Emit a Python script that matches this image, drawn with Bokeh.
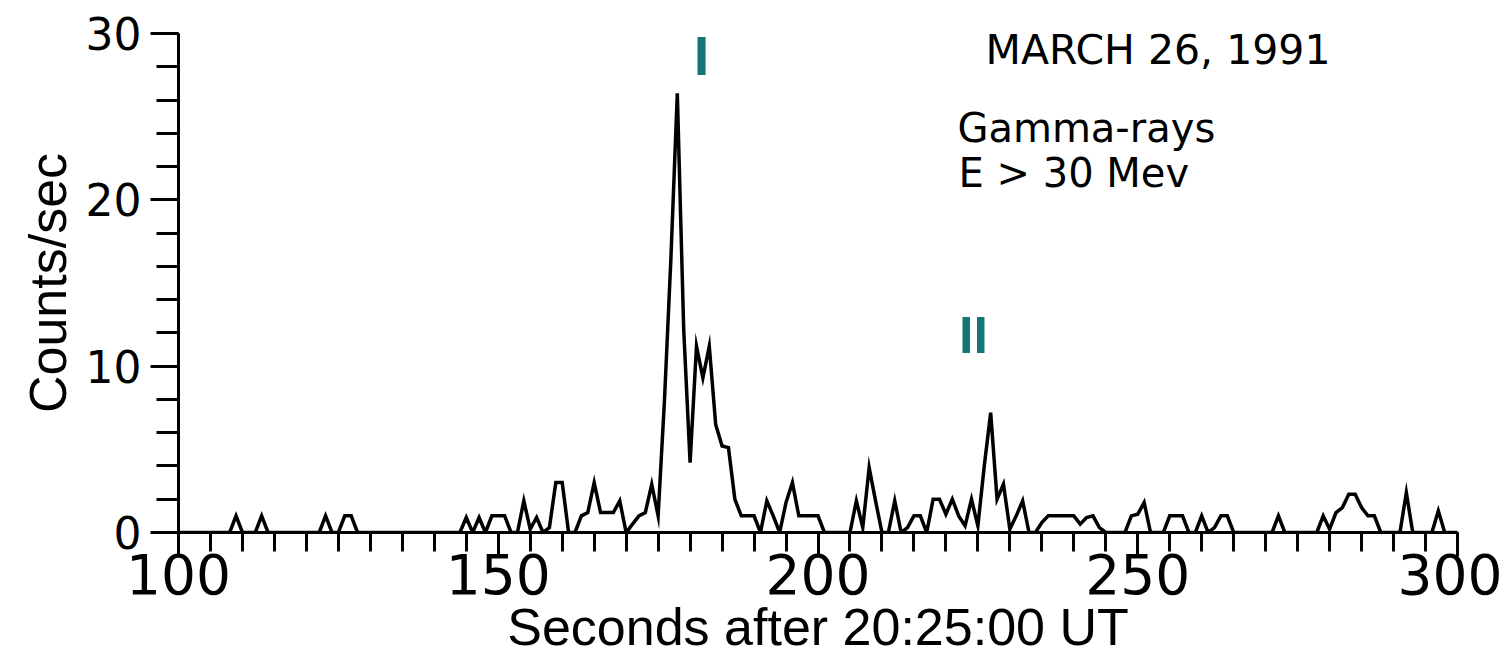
from bokeh.plotting import figure
from bokeh.models import Range1d, SingleIntervalTicker, Label
from bokeh.embed import file_html
from bokeh.resources import INLINE

# Time bins (seconds after 20:25:00 UT), 1 s resolution
seconds = list(range(100, 301))

# Count rate (counts/sec) for gamma-rays E > 30 MeV
counts = [
    # 100-109
    0, 0, 0, 0, 0, 0, 0, 0, 0, 1.0,
    # 110-119
    0, 0, 0, 1.0, 0, 0, 0, 0, 0, 0,
    # 120-129
    0, 0, 0, 1.0, 0, 0, 1.0, 1.0, 0, 0,
    # 130-139
    0, 0, 0, 0, 0, 0, 0, 0, 0, 0,
    # 140-149
    0, 0, 0, 0, 0, 0.9, 0, 0.9, 0, 1.0,
    # 150-159
    1.0, 1.0, 0, 0, 1.9, 0.2, 0.9, 0, 0.3, 3.0,
    # 160-169
    3.0, 0, 0, 1.0, 1.2, 3.0, 1.2, 1.2, 1.2, 1.9,
    # 170-179
    0, 0.5, 1.0, 1.2, 2.9, 1.0, 8.0, 16.5, 26.4, 12.2,
    # 180-189
    4.2, 11.2, 9.3, 11.2, 6.5, 5.2, 5.1, 2.0, 1.0, 1.0,
    # 190-199
    1.0, 0, 1.9, 1.0, 0, 1.8, 3.0, 1.0, 1.0, 1.0,
    # 200-209
    1.0, 0, 0, 0, 0, 0, 1.9, 0.3, 3.9, 1.9,
    # 210-219
    0, 0, 1.9, 0, 0.3, 1.0, 1.0, 0, 2.0, 2.0,
    # 220-229
    1.1, 2.0, 1.0, 0.4, 2.0, 0.4, 4.0, 7.2, 2.0, 2.9,
    # 230-239
    0.2, 1.0, 1.9, 0, 0, 0.6, 1.0, 1.0, 1.0, 1.0,
    # 240-249
    1.0, 0.5, 0.9, 1.0, 0.3, 0, 0, 0, 0, 1.0,
    # 250-259
    1.1, 1.8, 0, 0, 0, 1.0, 1.0, 1.0, 0, 0,
    # 260-269
    1.0, 0, 0.3, 1.0, 1.0, 0, 0, 0, 0, 0,
    # 270-279
    0, 0, 1.0, 0, 0, 0, 0, 0, 0, 1.0,
    # 280-289
    0.2, 1.2, 1.5, 2.3, 2.3, 1.5, 1.0, 1.0, 0, 0,
    # 290-299
    0, 0, 2.4, 0, 0, 0, 0, 1.3, 0, 0,
    # 300
    0,
]

title_text = "MARCH 26, 1991"
species_text = "Gamma-rays"
energy_text = "E > 30 Mev"
peak_labels = ["I", "II"]

FONT = "DejaVu Sans"
LABEL_FONT = "Liberation Sans"
TEAL = "#147676"

p = figure(
    width=1502, height=658,
    output_backend="svg", toolbar_location=None,
    x_range=Range1d(100, 300), y_range=Range1d(0, 30),
    min_border_left=178, min_border_right=45,
    min_border_top=33, min_border_bottom=125,
)
p.outline_line_color = None
p.grid.visible = False
p.background_fill_color = "white"
p.border_fill_color = "white"

p.line(seconds, counts, line_color="black", line_width=3.5, line_join="miter")

# X axis
xa = p.xaxis[0]
xa.ticker = SingleIntervalTicker(interval=50, num_minor_ticks=10)
xa.axis_label = "Seconds after 20:25:00 UT"
xa.axis_line_width = 3
xa.major_tick_line_width = 3
xa.minor_tick_line_width = 3
xa.major_tick_out = 24
xa.major_tick_in = 0
xa.minor_tick_out = 19
xa.minor_tick_in = 0
xa.major_label_standoff = -3
xa.axis_label_standoff = 1
xa.major_label_text_font = FONT
xa.major_label_text_font_size = "55px"
xa.major_label_text_color = "black"
xa.axis_label_text_font = LABEL_FONT
xa.axis_label_text_font_size = "52px"
xa.axis_label_text_font_style = "normal"
xa.axis_label_text_color = "black"

# Y axis
ya = p.yaxis[0]
ya.ticker = SingleIntervalTicker(interval=10, num_minor_ticks=5)
ya.axis_label = "Counts/sec"
ya.axis_line_width = 3
ya.major_tick_line_width = 3
ya.minor_tick_line_width = 3
ya.major_tick_out = 28
ya.major_tick_in = 0
ya.minor_tick_out = 22
ya.minor_tick_in = 0
ya.major_label_standoff = 9
ya.axis_label_standoff = 6
ya.major_label_text_font = FONT
ya.major_label_text_font_size = "44px"
ya.major_label_text_color = "black"
ya.axis_label_text_font = LABEL_FONT
ya.axis_label_text_font_size = "52px"
ya.axis_label_text_font_style = "normal"
ya.axis_label_text_color = "black"

# Annotations
p.add_layout(Label(x=226.2, y=28.98, text=title_text, text_font=FONT,
                   text_font_size="41px", text_color="black",
                   text_align="left", text_baseline="alphabetic"))
p.add_layout(Label(x=221.8, y=24.3, text=species_text, text_font=FONT,
                   text_font_size="40px", text_color="black",
                   text_align="left", text_baseline="alphabetic"))
p.add_layout(Label(x=221.97, y=21.6, text=energy_text, text_font=FONT,
                   text_font_size="40px", text_color="black",
                   text_align="left", text_baseline="alphabetic"))
p.add_layout(Label(x=181.8, y=28.68, text=peak_labels[0], text_font=LABEL_FONT,
                   text_font_style="bold", text_font_size="56px", text_color=TEAL,
                   text_align="center", text_baseline="alphabetic"))
p.add_layout(Label(x=224.3, y=11.88, text=peak_labels[1], text_font=LABEL_FONT,
                   text_font_style="bold", text_font_size="52px", text_color=TEAL,
                   text_align="center", text_baseline="alphabetic"))

open("out.html", "w").write(file_html(p, INLINE))
